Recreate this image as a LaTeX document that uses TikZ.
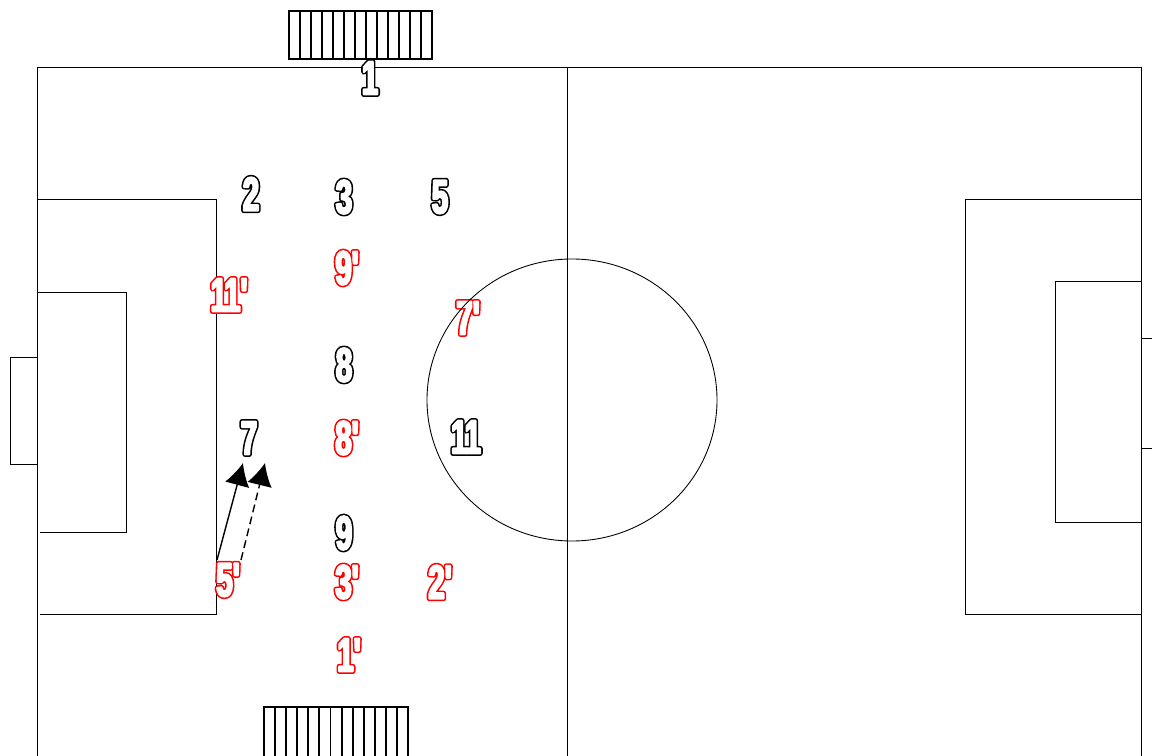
\documentclass[tikz,border=0pt]{standalone}
\usepackage{fontspec}
\usepackage{tikz}
\usetikzlibrary{arrows.meta, positioning, calc}
\newfontfamily\numfont[FakeStretch=0.62]{Liberation Sans Bold}
% hollow heavy figures: thick coloured stroke, then white on top
\newcommand{\hollow}[1]{\rlap{\special{pdf:literal direct 2 Tr 3 w 1 j}#1\special{pdf:literal direct 0 Tr}}%
  {\color{white}\special{pdf:literal direct 2 Tr 1.2 w 1 j}#1\special{pdf:literal direct 0 Tr}}}
\newcommand{\eleven}{1\kern-0.06em 1}

\begin{document}
\begin{tikzpicture}[x=0.02cm, y=-0.02cm,
    line/.style={line width=0.5pt, black},
    bench/.style={line width=1.1pt, black},
    pl/.style={inner sep=0pt, text=black, font=\numfont\fontsize{27}{27}\selectfont},
    op/.style={pl, text=red},
    run/.style={line width=0.8pt, -{Latex[length=4.5mm, width=5mm]}}]
  \useasboundingbox (0,0) rectangle (1152,756);
  % pitch
  \draw[line] (37,756) -- (37,67) -- (1141,67) -- (1141,756);
  \draw[line] (567,67) -- (567,756);
  % left end
  \draw[line] (37,199) -- (216,199) -- (216,614) -- (40,614);
  \draw[line] (37,292) -- (126,292) -- (126,532) -- (40,532);
  \draw[line] (37,357) -- (10,357) -- (10,464) -- (37,464);
  % right end
  \draw[line] (1141,199) -- (965,199) -- (965,614) -- (1141,614);
  \draw[line] (1141,281) -- (1055,281) -- (1055,522) -- (1141,522);
  \draw[line] (1141,338) -- (1152,338);
  \draw[line] (1141,448) -- (1152,448);
  % benches
  \draw[bench] (289,11) rectangle (432,59);
  \foreach \i in {1,...,12}
    \draw[bench] ({289+\i*143/13},11) -- ({289+\i*143/13},59);
  \draw[bench] (264,707) rectangle (408,760);
  \foreach \i in {1,...,12}
    \draw[bench] ({264+\i*144/13},707) -- ({264+\i*144/13},760);
  % black team
  \node[pl] (b1) at (370,78) {\hollow{1}};
  \node[pl] (b2) at (251,194) {\hollow{2}};
  \node[pl] (b3) at (344,197) {\hollow{3}};
  \node[pl] (b5) at (440,197) {\hollow{5}};
  \node[pl] (b8) at (344,365) {\hollow{8}};
  \node[pl] (b7) at (249,438) {\hollow{7}};
  \node[pl] (b11) at (466,437) {\hollow{\eleven}};
  \node[pl] (b9) at (344,533) {\hollow{9}};
  % red team
  \node[op] (r9) at (347,268) {\hollow{9'}};
  \node[op] (r11) at (229,295) {\hollow{\eleven'}};
  \node[op] (r7) at (468,318) {\hollow{7'}};
  \node[op] (r8) at (347,438) {\hollow{8'}};
  \node[op] (r5) at (228,580) {\hollow{5'}};
  \node[op] (r3) at (347,582) {\hollow{3'}};
  \node[op] (r2) at (440,582) {\hollow{2'}};
  \node[op] (r1) at (349,655) {\hollow{1'}};
  % centre circle over the figures
  \draw[line] (572,400) ellipse (145 and 141);
  % pass and run
  \coordinate (p1) at (217,560);
  \coordinate (p2) at (243,463);
  \coordinate (q1) at (241,560);
  \coordinate (q2) at (265,463);
  \draw[run] (p1) -- (p2);
  \draw[run, dash pattern=on 4.5pt off 2.5pt] (q1) -- (q2);
\end{tikzpicture}
\end{document}
